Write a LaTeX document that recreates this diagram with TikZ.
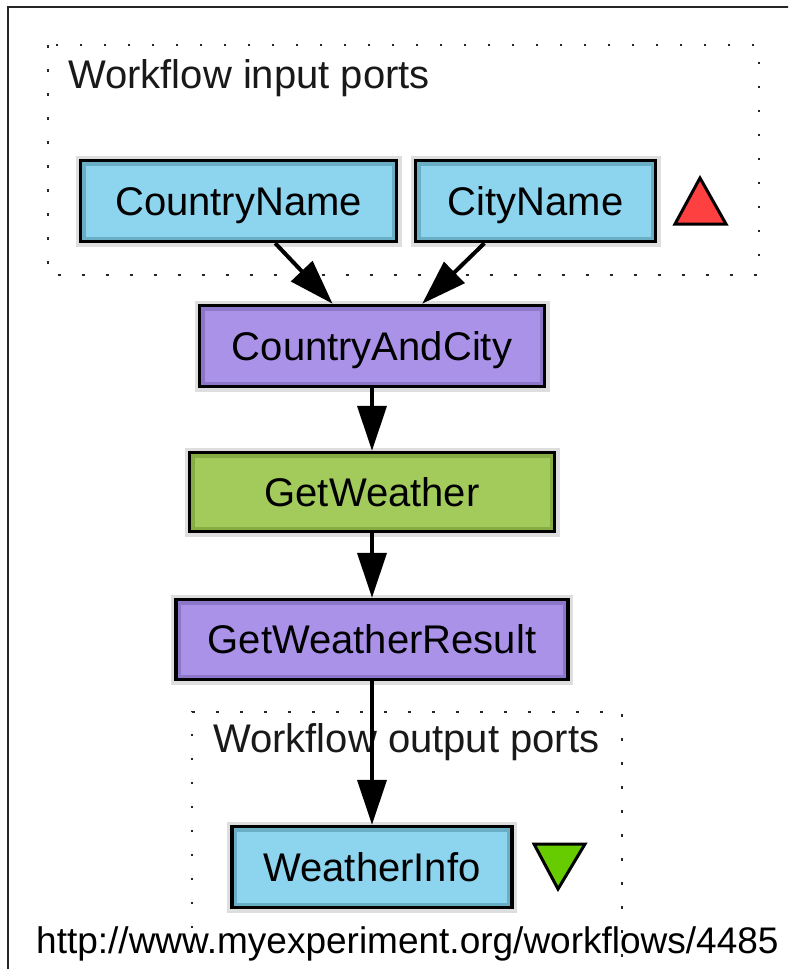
\documentclass[tikz,border=0pt]{standalone}
\usepackage{fontspec}
\setmainfont{Liberation Sans}
\usetikzlibrary{arrows.meta,calc}
\definecolor{portblue}{HTML}{8DD4EE}
\definecolor{portblueD}{HTML}{6AAEC6}
\definecolor{procpurple}{HTML}{AA92E8}
\definecolor{procpurpleD}{HTML}{8C76C8}
\definecolor{wsgreen}{HTML}{A3CB5C}
\definecolor{wsgreenD}{HTML}{86AC44}
\definecolor{trired}{HTML}{FF4040}
\definecolor{trigreen}{HTML}{66CC00}
\tikzset{
  box/.style 2 args={draw=black, line width=3.5pt, fill=#1,
    preaction={draw=black!13, line width=10pt},
    path picture={\draw[#2, line width=10pt] (path picture bounding box.south west) rectangle (path picture bounding box.north east);},
    inner sep=0pt, text height=28.6pt, text depth=0pt,
    font=\fontsize{40}{48}\selectfont},
  flow/.style={line width=4pt, -{Triangle[length=45pt,width=29pt]}},
  portgroup/.style={draw=black!85, line width=2.5pt, dash pattern=on 2.5pt off 21.5pt},
  grouplabel/.style={anchor=base west, inner sep=0pt, font=\fontsize{40}{48}\selectfont, text=black!90},
  marker/.style={draw=black, line width=3pt, line join=miter}
}
\begin{document}
\begin{tikzpicture}[x=1pt,y=-1pt]
\clip (0,0) rectangle (788,969);
\fill[white] (0,0) rectangle (788,969);
% outer frame
\draw[line width=1.8pt, black!85] (8,985) -- (8,7) -- (800,7);
% input ports group
\draw[portgroup] (48,45) rectangle (759,275);
\node[grouplabel] (inlabel) at (68,88) {Workflow input ports};
% output ports group
\draw[portgroup] (192,1000) -- (192,712) -- (622,712) -- (622,1000);
\node[grouplabel] (outlabel) at (213,752) {Workflow output ports};
% nodes
\node[box={portblue}{portblueD}, minimum width=316pt, minimum height=81pt] (cn) at (238.5,201) {CountryName};
\node[box={portblue}{portblueD}, minimum width=240pt, minimum height=81pt] (city) at (535.5,201) {CityName};
\node[box={procpurple}{procpurpleD}, minimum width=345pt, minimum height=81pt] (cac) at (372,346) {CountryAndCity};
\node[box={wsgreen}{wsgreenD}, minimum width=365pt, minimum height=79pt] (gw) at (372,492) {GetWeather};
\node[box={procpurple}{procpurpleD}, minimum width=392pt, minimum height=80pt] (gwr) at (372,639.5) {GetWeatherResult};
\node[box={portblue}{portblueD}, minimum width=280pt, minimum height=81pt] (wi) at (372,867) {WeatherInfo};
% triangles
\draw[marker, fill=trired] (675,224) -- (726,224) -- (700,178) -- cycle;
\draw[marker, fill=trigreen] (534,844) -- (585,844) -- (558,889) -- cycle;
% connectors
\draw[flow] ($(cn.south west)!0.615!(cn.south east)$) -- ($(cac.north west)!0.387!(cac.north east)$);
\draw[flow] ($(city.south west)!0.29!(city.south east)$) -- ($(cac.north west)!0.644!(cac.north east)$);
\draw[flow] (cac.south) -- (gw.north);
\draw[flow] (gw.south) -- (gwr.north);
\draw[flow] (gwr.south) -- (wi.north);
% url
\node[anchor=base west, inner sep=0pt, font=\fontsize{37}{44}\selectfont] (url) at (36,953) {http://www.myexperiment.org/workflows/4485};
\end{tikzpicture}
\end{document}
